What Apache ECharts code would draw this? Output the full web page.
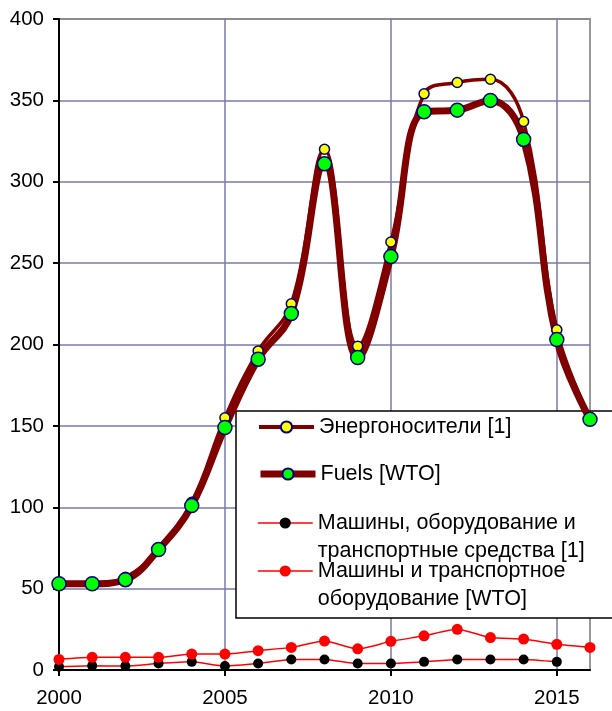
<!DOCTYPE html>
<html>
<head>
<meta charset="utf-8">
<script src="https://cdn.jsdelivr.net/npm/echarts@6/dist/echarts.min.js"></script>
<style>
  html, body { margin: 0; padding: 0; background: #fff; }
  #chart { width: 612px; height: 711px; }
</style>
</head>
<body>
<div id="chart"></div>
<script>
// years on the x axis
const years = ['2000', '2001', '2002', '2003', '2004', '2005', '2006', '2007', '2008',
  '2009', '2010', '2011', '2012', '2013', '2014', '2015', '2016']

// series values
const energy1 = [53, 53, 57, 74, 103, 155, 196, 225, 320, 199, 263, 354, 361, 363, 337, 209, 155]
const fuelsWto = [53, 53, 55.5, 74, 101, 149, 191, 219, 311, 192, 254, 343, 344, 350, 326, 203, 154]
const machines1 = [2, 2.6, 2.4, 4, 5, 2.5, 4, 6.5, 6.5, 4, 4, 5, 6.5, 6.5, 6.5, 5, null]
const machinesWto = [6.5, 7.8, 7.8, 7.8, 9.8, 9.8, 11.9, 13.9, 17.8, 13, 17.6, 21, 25, 19.9, 19, 15.8, 13.9]

const names = [
  'Энергоносители [1]',
  'Fuels [WTO]',
  'Машины, оборудование и транспортные средства [1]',
  'Машины и транспортное оборудование [WTO]'
]
const legendText = [
  'Энергоносители [1]',
  'Fuels [WTO]',
  '\nМашины, оборудование и\nтранспортные средства [1]',
  '\nМашины и транспортное\nоборудование [WTO]'
]

const font = 'Liberation Sans, Arial, sans-serif'
const gridColor = '#7a7aaa'

const myChart = echarts.init(document.getElementById('chart'))

const makeLegend = (i, top, lh, lw) => ({
  data: [names[i]],
  left: 257,
  top: top,
  padding: 0,
  itemWidth: 55,
  itemHeight: 14,
  selectedMode: false,
  lineStyle: { width: lw },
  formatter: () => legendText[i],
  textStyle: { fontFamily: font, fontSize: 21.5, color: '#000', lineHeight: lh }
})

const option = {
  animation: false,
  grid: {
    left: 59,
    right: 22,
    top: 19,
    bottom: 41,
    show: true,
    borderColor: '#999999',
    borderWidth: 2
  },
  graphic: [
    {
      type: 'rect',
      z: 1,
      shape: { x: 236, y: 411, width: 420, height: 207 },
      style: { fill: '#fff', stroke: '#000', lineWidth: 1.5 }
    }
  ],
  legend: [
    makeLegend(0, 416, 22, 4),
    makeLegend(1, 463, 22, 7),
    makeLegend(2, 481, 28, 1.5),
    makeLegend(3, 529, 28, 1.5)
  ],
  xAxis: {
    type: 'category',
    data: years,
    boundaryGap: false,
    axisLine: { lineStyle: { color: '#000', width: 2 } },
    axisTick: { interval: 4, length: 6, lineStyle: { color: '#000', width: 2 } },
    axisLabel: { interval: 4, margin: 18, color: '#000', fontFamily: font, fontSize: 20.5 },
    splitLine: {
      show: true,
      interval: 4,
      lineStyle: { color: [gridColor, gridColor, gridColor, gridColor, '#999999'], width: 1.5 }
    }
  },
  yAxis: {
    type: 'value',
    min: 0,
    max: 400,
    interval: 50,
    axisLine: { show: true, lineStyle: { color: '#000', width: 2 } },
    axisTick: { show: true, length: 6, lineStyle: { color: '#000', width: 2 } },
    axisLabel: { margin: 15, color: '#000', fontFamily: font, fontSize: 20.5 },
    splitLine: {
      lineStyle: {
        color: [gridColor, gridColor, gridColor, gridColor, gridColor, gridColor, gridColor, gridColor, '#888888'],
        width: 1.5
      }
    }
  },
  series: [
    {
      name: names[0],
      type: 'line',
      data: energy1,
      smooth: 0.4,
      symbol: 'circle',
      symbolSize: 10,
      lineStyle: { color: '#800000', width: 3.5 },
      itemStyle: { color: '#ffff00', borderColor: '#000080', borderWidth: 1.5 }
    },
    {
      name: names[1],
      type: 'line',
      data: fuelsWto,
      smooth: 0.4,
      symbol: 'circle',
      symbolSize: 14,
      lineStyle: { color: '#800000', width: 7 },
      itemStyle: { color: '#00ff00', borderColor: '#000080', borderWidth: 1.5 }
    },
    {
      name: names[2],
      type: 'line',
      data: machines1,
      smooth: 0.2,
      symbol: 'circle',
      symbolSize: 10,
      lineStyle: { color: '#ff0000', width: 1.5 },
      itemStyle: { color: '#000000', borderWidth: 0 }
    },
    {
      name: names[3],
      type: 'line',
      data: machinesWto,
      smooth: 0.2,
      symbol: 'circle',
      symbolSize: 11,
      lineStyle: { color: '#ff0000', width: 1.5 },
      itemStyle: { color: '#ff0000', borderWidth: 0 }
    }
  ]
}

myChart.setOption(option)
</script>
</body>
</html>
